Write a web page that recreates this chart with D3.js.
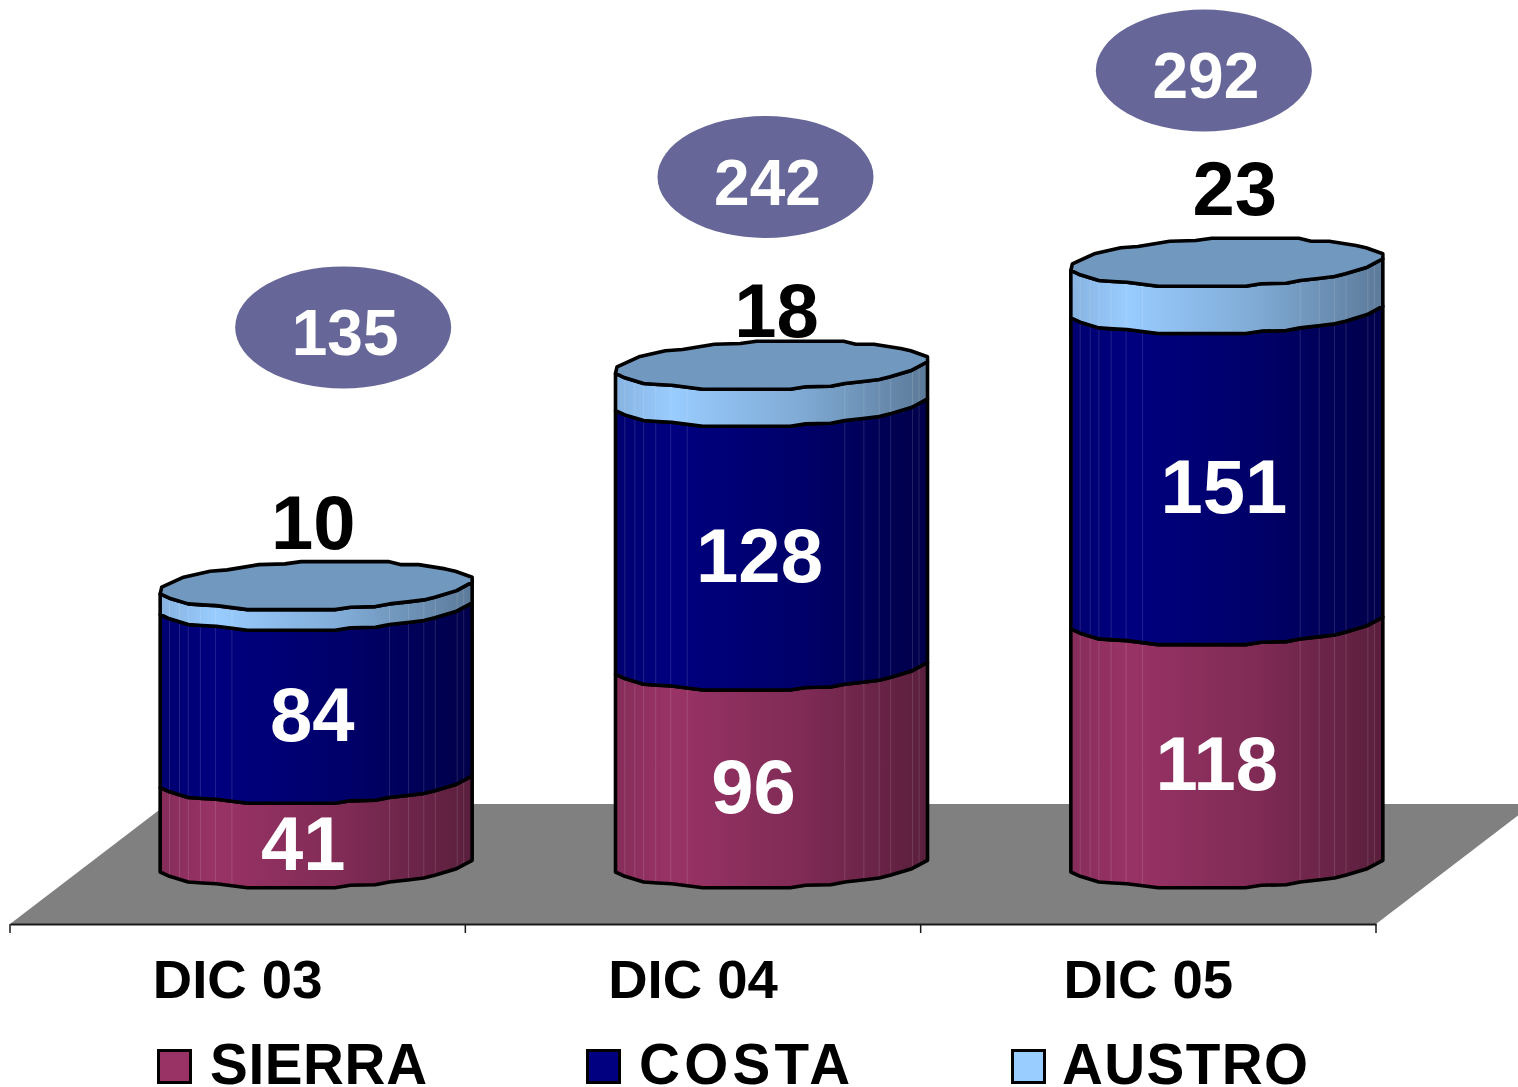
<!DOCTYPE html>
<html>
	<head>
		<meta charset="utf-8"/>
		<title>DIC 03 - DIC 05</title>
		<script src="https://d3js.org/d3.v7.min.js"></script>
		<style>
			html, body { margin: 0; background: #fff; }
			svg { display: block; }
			text { font-family: "Liberation Sans", Arial, sans-serif; font-weight: bold; }
		</style>
	</head>
	<body>
	<svg width="1518" height="1087"></svg>
	<script>
		// values
		var categories = ["DIC 03", "DIC 04", "DIC 05"];
		var seriesNames = ["SIERRA", "COSTA", "AUSTRO"];
		var sierra = [41, 96, 118];
		var costa = [84, 128, 151];
		var austro = [10, 18, 23];
		var totals = [135, 242, 292];

		var peak = ["#993366", "#000080", "#99ccff"];
		var dark = ["#5a1f3d", "#00004a", "#5c7a99"];

		// label nudges, the original labels were placed by hand
		var insideDx = [[-13, -4, 0], [-18, -12, 0], [-10, -3, 0]];
		var topDx = [-3, 5, 8];
		var topDy = [-73, -64, -83];
		var bubbleDx = [27, -6, -23];
		var bubbleDy = [-266.5, -196.5, -200];

		// the scalloped rim of the cylinder, x as a fraction of the width, y in px from the left corner
		var frontT = [0, .03, .09, .135, .18, .28, .34, .56, .61, .69, .735, .80, .845, .88, .95, 1];
		var frontY = [0, 4.3, 10, 11, 11.7, 15.7, 15.7, 15.7, 13.3, 12.7, 10, 7.7, 6, 3.3, -3.3, -11.7];
		var backT = [0, .005, .075, .16, .215, .317, .4, .452, .731, .77, .828, .914, .946, 1, 1];
		var backY = [0, -6.7, -16.7, -22.7, -24, -29.3, -30, -32.3, -32.3, -29.3, -29.3, -25, -22.7, -16.7, -11.7];
		var facets = [.03, .062, .09, .129, .177, .23, .735, .796, .845, .882, .952, .973];

		var svg = d3.select("svg");
		var axisY = 924, baseY = 872, depthX = 157, depthY = 120;
		var cylW = 312, cylShift = 78.5;

		var xs = d3.scaleBand().domain(categories).range([10, 1376]);
		var ys = d3.scaleLinear().domain([0, 292]).range([baseY, baseY - 292 * 2.06]);
		var tx = d3.scaleLinear().domain([0, 1]).range([0, cylW]);
		var frontAt = d3.scaleLinear().domain(frontT).range(frontY);

		var table = categories.map(function(c, i) {
			return { cat: c, SIERRA: sierra[i], COSTA: costa[i], AUSTRO: austro[i] };
		});
		var stacked = d3.stack().keys(seriesNames)(table);

		// gradients across the cylinder
		var defs = svg.append("defs");
		seriesNames.forEach(function(s, i) {
			var g = defs.append("linearGradient").attr("id", "grad" + i);
			g.append("stop").attr("offset", "0%").attr("stop-color", d3.interpolateRgb(peak[i], dark[i])(.3));
			g.append("stop").attr("offset", "18%").attr("stop-color", peak[i]);
			g.append("stop").attr("offset", "60%").attr("stop-color", d3.interpolateRgb(peak[i], dark[i])(.42));
			g.append("stop").attr("offset", "100%").attr("stop-color", dark[i]);
		});

		// floor
		svg.append("polygon")
			.attr("points", [[xs.range()[0], axisY], [xs.range()[1], axisY],
				[xs.range()[1] + depthX, axisY - depthY], [xs.range()[0] + depthX, axisY - depthY]].join(" "))
			.attr("fill", "#808080");

		// category axis, ticks sit on the band edges
		svg.append("g")
			.attr("transform", "translate(0," + axisY + ")")
			.call(d3.axisBottom(xs).tickSize(0).tickPadding(35))
			.call(function(g) {
				g.select(".domain").attr("stroke", "#1a1a1a").attr("stroke-width", 2);
				g.selectAll("text").attr("font-size", 54.5).attr("fill", "#000").attr("font-family", null);
			});
		svg.append("g").selectAll("line")
			.data(d3.range(categories.length + 1))
			.enter().append("line")
			.attr("x1", function(i) { return xs.range()[0] + i * xs.step(); })
			.attr("x2", function(i) { return xs.range()[0] + i * xs.step(); })
			.attr("y1", axisY).attr("y2", axisY + 9)
			.attr("stroke", "#1a1a1a").attr("stroke-width", 1.5);

		var rim = d3.line()
			.x(function(d) { return tx(d[0]); })
			.y(function(d) { return d[1]; });
		var front = d3.zip(frontT, frontY);
		var back = d3.zip(backT, backY);

		function cylX(c) { return xs(c) + xs.bandwidth() / 2 + cylShift - cylW / 2; }

		function segmentPath(y0, y1) {
			var up = front.map(function(p) { return [p[0], p[1] + y1]; });
			var down = front.map(function(p) { return [p[0], p[1] + y0]; }).reverse();
			return rim(up.concat(down)) + "Z";
		}

		categories.forEach(function(c, i) {
			var g = svg.append("g").attr("transform", "translate(" + cylX(c) + ",0)");

			stacked.forEach(function(layer, s) {
				var y0 = ys(layer[i][0]), y1 = ys(layer[i][1]);
				g.append("path")
					.attr("d", segmentPath(y0, y1))
					.attr("fill", "url(#grad" + s + ")");
				// thin facet lines
				g.selectAll("line.f" + s)
					.data(facets)
					.enter().append("line")
					.attr("class", "f" + s)
					.attr("x1", function(t) { return tx(t); })
					.attr("x2", function(t) { return tx(t); })
					.attr("y1", function(t) { return y1 + frontAt(t); })
					.attr("y2", function(t) { return y0 + frontAt(t); })
					.attr("stroke", "#fff").attr("stroke-opacity", .13).attr("stroke-width", 1);
				g.append("path")
					.attr("d", segmentPath(y0, y1))
					.attr("fill", "none")
					.attr("stroke", "#000").attr("stroke-width", 3.6).attr("stroke-linejoin", "round");
			});

			// top face
			var yTop = ys(totals[i]);
			var lid = front.concat(back.slice().reverse()).map(function(p) { return [p[0], p[1] + yTop]; });
			g.append("path")
				.attr("d", rim(lid) + "Z")
				.attr("fill", "#7198bf")
				.attr("stroke", "#000").attr("stroke-width", 3.6).attr("stroke-linejoin", "round");
		});

		var centerX = function(c) { return cylX(c) + cylW / 2; };

		// values inside the cylinders, AUSTRO goes above the top
		stacked.forEach(function(layer, s) {
			svg.append("g").selectAll("text")
				.data(layer)
				.enter().append("text")
				.attr("text-anchor", "middle")
				.attr("font-size", 76)
				.attr("fill", s == 2 ? "#000" : "#fff")
				.attr("x", function(d, i) {
					return centerX(categories[i]) + (s == 2 ? topDx[i] : insideDx[i][s]);
				})
				.attr("y", function(d, i) {
					if (s == 2) return ys(totals[i]) + topDy[i] + 28;
					return (ys(d[0]) + ys(d[1])) / 2 + 12 + 28;
				})
				.text(function(d) { return d[1] - d[0]; });
		});

		// totals in the ellipses
		var bubbles = svg.append("g").selectAll("g")
			.data(totals)
			.enter().append("g")
			.attr("transform", function(d, i) {
				return "translate(" + (centerX(categories[i]) + bubbleDx[i]) + "," + (ys(d) + bubbleDy[i]) + ")";
			});
		bubbles.append("ellipse").attr("rx", 108).attr("ry", 61).attr("fill", "#666699");
		bubbles.append("text")
			.attr("text-anchor", "middle")
			.attr("x", 2).attr("y", 28)
			.attr("font-size", 64).attr("fill", "#fff")
			.text(function(d) { return d; });

		// legend
		var legendX = d3.scaleOrdinal().domain(seriesNames).range([157, 586, 1011]);
		var textW = { SIERRA: 217, COSTA: 211, AUSTRO: 246 };
		var legend = svg.append("g").selectAll("g")
			.data(seriesNames)
			.enter().append("g")
			.attr("transform", function(d) { return "translate(" + legendX(d) + ",1049)"; });
		legend.append("rect")
			.attr("x", 1.5).attr("y", 1.5).attr("width", 32).attr("height", 32)
			.attr("fill", function(d, i) { return peak[i]; })
			.attr("stroke", "#000").attr("stroke-width", 3);
		legend.append("text")
			.attr("x", function(d, i) { return [53, 53, 51][i]; })
			.attr("y", 35)
			.attr("font-size", 56.6)
			.attr("textLength", function(d) { return textW[d]; })
			.attr("lengthAdjust", "spacing")
			.text(function(d) { return d; });
	</script>
	</body>
</html>
